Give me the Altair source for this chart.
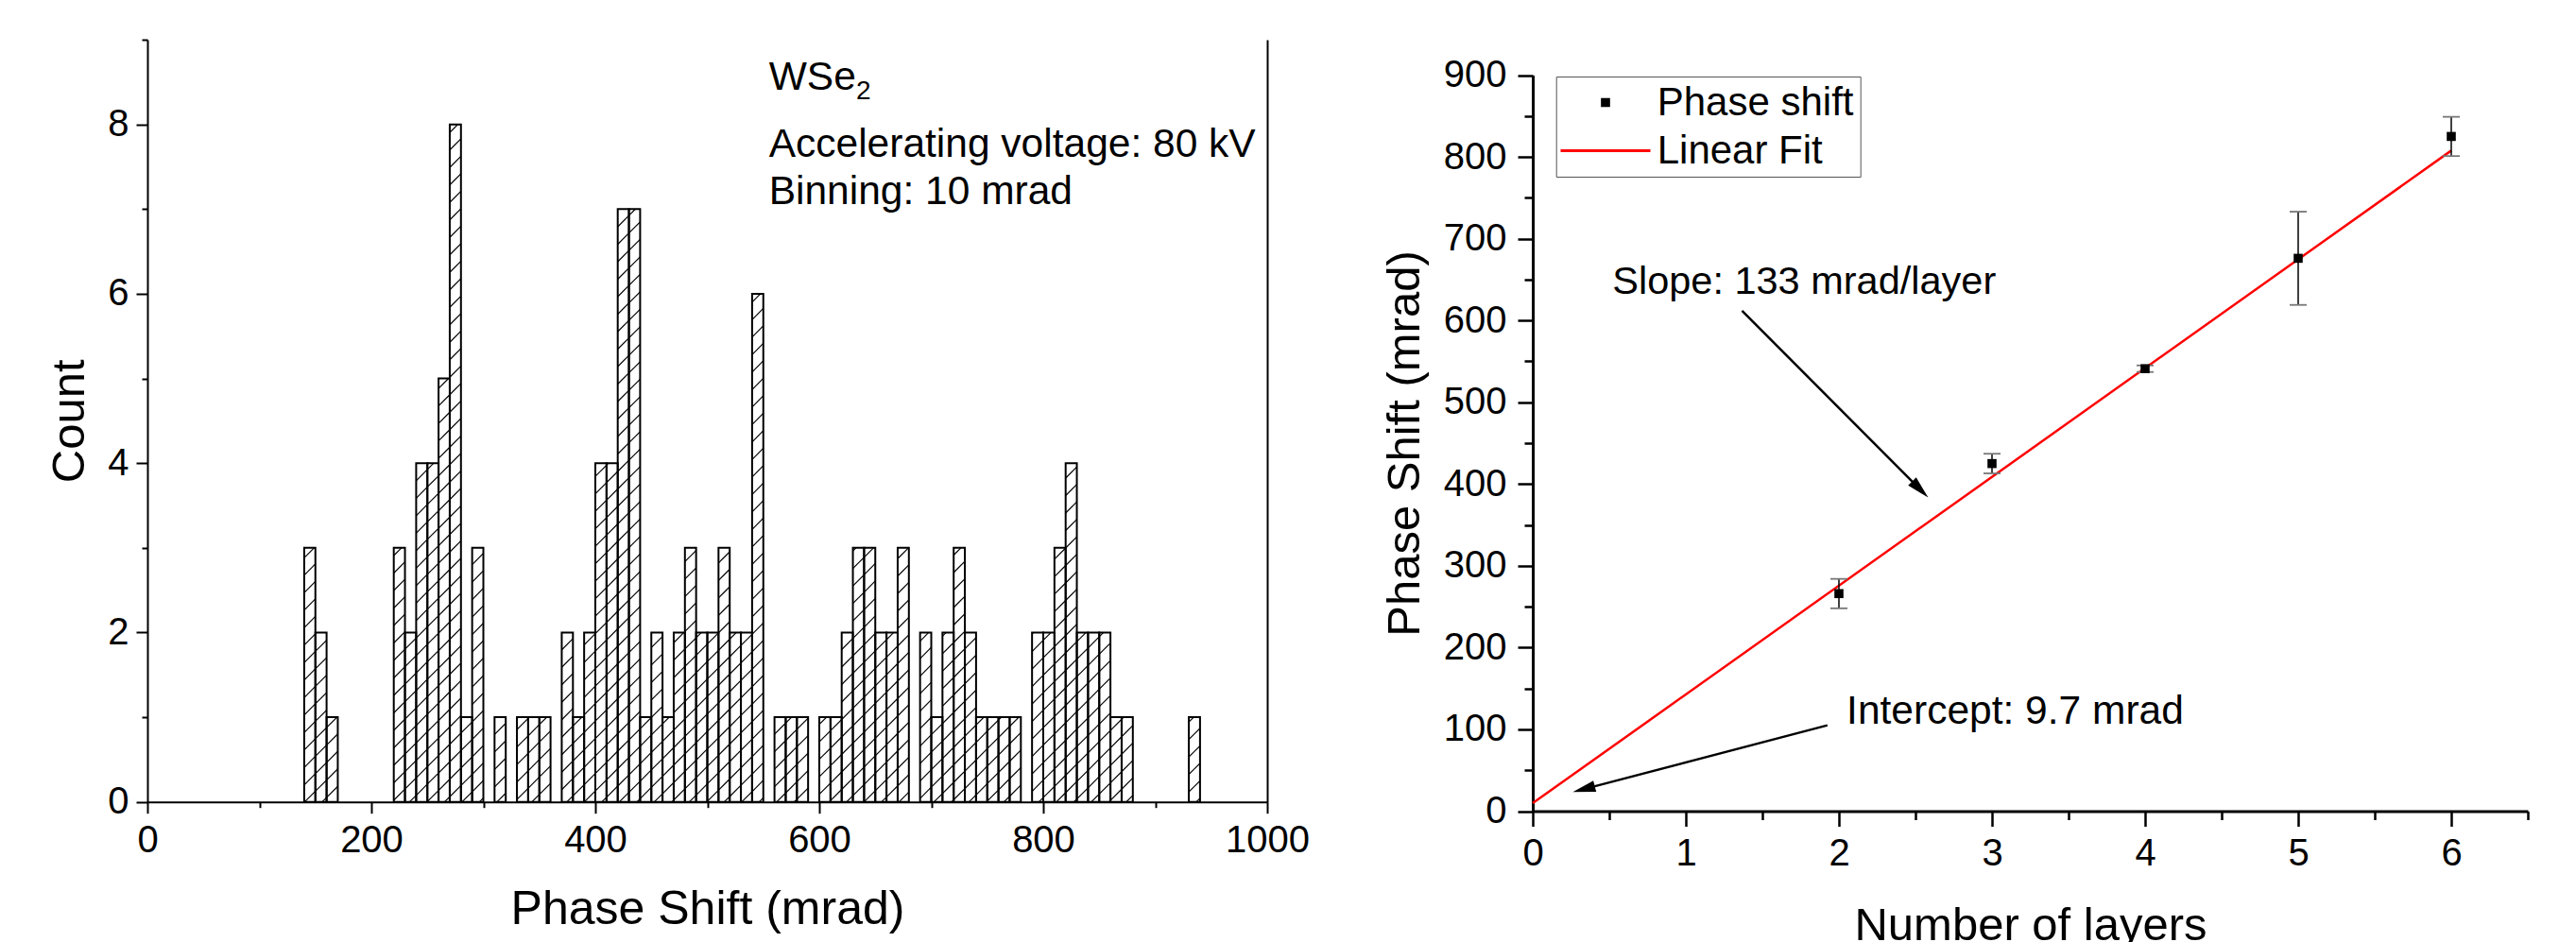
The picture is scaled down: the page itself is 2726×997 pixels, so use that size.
import math
import altair as alt
import numpy as np
import pandas as pd

FONT = "Liberation Sans"

# ---------------- histogram data (10 mrad bins) ----------------
bin_starts = [140, 150, 160,
              220, 230, 240, 250, 260, 270, 280, 290,
              310, 330, 340, 350,
              370, 380, 390, 400, 410, 420, 430, 440, 450, 460, 470, 480, 490, 500, 510, 520, 530, 540,
              560, 570, 580,
              600, 610, 620, 630, 640, 650, 660, 670,
              690, 700, 710, 720, 730, 740, 750, 760, 770,
              790, 800, 810, 820, 830, 840, 850, 860, 870,
              930]
bin_counts = [3, 2, 1,
              3, 2, 4, 4, 5, 8, 1, 3,
              1, 1, 1, 1,
              2, 1, 2, 4, 4, 7, 7, 1, 2, 1, 2, 3, 2, 2, 3, 2, 2, 6,
              1, 1, 1,
              1, 1, 2, 3, 3, 2, 2, 3,
              2, 1, 2, 3, 2, 1, 1, 1, 1,
              2, 2, 3, 4, 2, 2, 2, 1, 1,
              1]
BIN_WIDTH = 10

# ---------------- phase shift vs layers ----------------
n_layers = [2, 3, 4, 5, 6]
phase_shift = [266, 425, 541, 676, 825]
phase_err = [18, 12, 4, 57, 24]
fit_slope = 133
fit_intercept = 9.7
fit_x = [0, 6]
series_names = ["Phase shift", "Linear Fit"]

# ---------------- annotations ----------------
hist_note_text = ["WSe", "Accelerating voltage: 80 kV", "Binning: 10 mrad"]
hist_note_x = [555, 555, 555]
hist_note_y = [8.41, 7.62, 7.06]
hist_sub_text = ["2"]
hist_sub_x = [633]
hist_sub_y = [8.30]

slope_note_text = ["Slope: 133 mrad/layer"]
slope_note_x = [0.52]
slope_note_y = [632]
icpt_note_text = ["Intercept: 9.7 mrad"]
icpt_note_x = [2.05]
icpt_note_y = [107]
arrow_x0 = [1.367, 1.925]
arrow_y0 = [612, 105]
arrow_x1 = [2.583, 0.262]
arrow_y1 = [383.5, 23.4]

# ---------------- layout ----------------
W_L, H_L = 1185, 806.7
W_R, H_R = 1053, 816.5
R_TOP = 37.5
L_PX_X = W_L / 1000.0
L_PX_Y = H_L / 9.0
R_PX_X = W_R / 6.5
R_PX_Y = (H_R - R_TOP) / 900.0

# hatch segments (45 degree "/" lines, clipped to each bar)
rise = BIN_WIDTH * L_PX_X / L_PX_Y
gap = 18.5 / L_PX_Y
r = rise / BIN_WIDTH
segs = []
for b, c in zip(bin_starts, bin_counts):
    base = b * r
    k0 = int(np.ceil((-rise - base) / gap))
    k1 = int(np.floor((c - base) / gap))
    for k in range(k0, k1 + 1):
        yl = base + k * gap  # y of the hatch line at the bar's left edge
        xa, ya = b, yl
        xb, yb = b + BIN_WIDTH, yl + rise
        if ya < 0:
            xa = b + (-yl) / r
            ya = 0.0
        if yb > c:
            xb = b + (c - yl) / r
            yb = float(c)
        if xb - xa > 0.3:
            segs.append((xa, ya, xb, yb))
hatch_df = pd.DataFrame(segs, columns=["xa", "ya", "xb", "yb"])

hist_df = pd.DataFrame({"start": bin_starts, "count": bin_counts})
hist_df["end"] = hist_df["start"] + BIN_WIDTH
hist_df["zero"] = 0

xL = alt.Scale(domain=[0, 1000], nice=False, zero=False)
yL = alt.Scale(domain=[0, 9], nice=False, zero=False)

ax_Lx = alt.Axis(orient="bottom", values=list(range(0, 1001, 200)), format="d", tickSize=12, tickWidth=2,
                 domainWidth=2, labelPadding=9, labelFlush=False, labelOverlap=False, grid=False,
                 title="Phase Shift (mrad)", titlePadding=28, titleFontSize=50)
ax_Lx_minor = alt.Axis(orient="bottom", values=list(range(100, 1000, 200)), tickSize=6, tickWidth=2,
                       labels=False, domain=False, grid=False, title=None)
ax_Ly = alt.Axis(orient="left", values=[0, 2, 4, 6, 8], format="d", tickSize=12, tickWidth=2, domainWidth=2,
                 labelPadding=8, labelFlush=False, grid=False, title="Count", titlePadding=15)
ax_Ly_minor = alt.Axis(orient="left", values=[1, 3, 5, 7, 9], tickSize=6, tickWidth=2, labels=False,
                       domain=False, grid=False, title=None)
ax_Ly_right = alt.Axis(orient="right", ticks=False, labels=False, domainWidth=2, grid=False, title=None)

hatch = alt.Chart(hatch_df).mark_rule(color="black", strokeWidth=1.2).encode(
    x=alt.X("xa:Q", scale=xL, axis=None), y=alt.Y("ya:Q", scale=yL, axis=None),
    x2="xb:Q", y2="yb:Q")
bars = alt.Chart(hist_df).mark_rect(filled=False, color="black", strokeWidth=2).encode(
    x=alt.X("start:Q", scale=xL, axis=ax_Lx), x2="end:Q",
    y=alt.Y("zero:Q", scale=yL, axis=ax_Ly), y2="count:Q")
minor_L = alt.Chart(hist_df).mark_point(opacity=0).encode(
    x=alt.X("start:Q", scale=xL, axis=ax_Lx_minor), y=alt.Y("count:Q", scale=yL, axis=ax_Ly_minor))
frame_L = alt.Chart(hist_df).mark_point(opacity=0).encode(
    x=alt.X("start:Q", scale=xL, axis=None), y=alt.Y("count:Q", scale=yL, axis=ax_Ly_right))
notes_L = alt.Chart(pd.DataFrame({"x": hist_note_x, "y": hist_note_y, "t": hist_note_text})).mark_text(
    align="left", baseline="alphabetic", font=FONT, fontSize=42.5, color="black").encode(
    x=alt.X("x:Q", scale=xL, axis=None), y=alt.Y("y:Q", scale=yL, axis=None), text="t:N")
sub_L = alt.Chart(pd.DataFrame({"x": hist_sub_x, "y": hist_sub_y, "t": hist_sub_text})).mark_text(
    align="left", baseline="alphabetic", font=FONT, fontSize=28, color="black").encode(
    x=alt.X("x:Q", scale=xL, axis=None), y=alt.Y("y:Q", scale=yL, axis=None), text="t:N")

left = alt.layer(hatch, bars, minor_L, frame_L, notes_L, sub_L).resolve_axis(
    x="independent", y="independent").properties(width=W_L, height=H_L)

# ---------------- right chart ----------------
xR = alt.Scale(domain=[0, 6.5], nice=False, zero=False)
yR = alt.Scale(domain=[0, 900], nice=False, zero=False, range=[H_R, R_TOP])

ax_Rx = alt.Axis(orient="bottom", values=list(range(0, 7)), format="d", tickSize=16, tickWidth=2.5,
                 domainWidth=3, labelPadding=9, labelFlush=False, grid=False,
                 title="Number of layers", titlePadding=32)
ax_Rx_minor = alt.Axis(orient="bottom", values=[0.5, 1.5, 2.5, 3.5, 4.5, 5.5, 6.5], tickSize=9, tickWidth=2.5,
                       labels=False, domain=False, grid=False, title=None)
ax_Ry = alt.Axis(orient="left", values=list(range(0, 901, 100)), format="d", tickSize=16, tickWidth=2.5,
                 domainWidth=3, labelPadding=12, labelFlush=False, grid=False,
                 title="Phase Shift (mrad)", titlePadding=16)
ax_Ry_minor = alt.Axis(orient="left", values=list(range(50, 900, 100)), tickSize=9, tickWidth=2.5,
                       labels=False, domain=False, grid=False, title=None)

pts_df = pd.DataFrame({"n": n_layers, "ps": phase_shift, "err": phase_err})
pts_df["lo"] = pts_df["ps"] - pts_df["err"]
pts_df["hi"] = pts_df["ps"] + pts_df["err"]
pts_df["series"] = series_names[0]

fit_df = pd.DataFrame({"n": fit_x, "ps": [fit_intercept + fit_slope * v for v in fit_x]})

# legend symbols: small nominal size, paths drawn wider than the unit box
LEG_SIZE = 400
LEG_SQ = "M2.1475,-0.3325H2.8125V0.3325H2.1475Z"
LEG_LINE = "M-2.27,0H7.23"
CAP_PATH = "M-1,0H1"
HEAD_PATH = "M0,0L-2,-0.5L-2,0.5Z"

# legends of a concatenated chart are placed from the first view's origin
LEGEND_X = 1490.7
LEGEND_Y = 39

leg = alt.Legend(title=None, orient="none", legendX=LEGEND_X, legendY=LEGEND_Y, direction="vertical",
                 labelFont=FONT, labelFontSize=42, labelColor="black", labelOffset=58.5, labelLimit=0,
                 symbolSize=LEG_SIZE, symbolStrokeWidth=3, symbolOpacity=1, padding=6.5, rowPadding=9,
                 strokeColor="#555", fillColor="white")

fit = alt.Chart(fit_df).mark_line(color="red", strokeWidth=2.5).encode(
    x=alt.X("n:Q", scale=xR, axis=ax_Rx), y=alt.Y("ps:Q", scale=yR, axis=ax_Ry))
minor_R = alt.Chart(fit_df).mark_point(opacity=0).encode(
    x=alt.X("n:Q", scale=xR, axis=ax_Rx_minor), y=alt.Y("ps:Q", scale=yR, axis=ax_Ry_minor))
err_rule = alt.Chart(pts_df).mark_rule(color="black", strokeWidth=1.5).encode(
    x=alt.X("n:Q", scale=xR, axis=None), y=alt.Y("lo:Q", scale=yR, axis=None), y2="hi:Q")
cap_lo = alt.Chart(pts_df).mark_point(shape=CAP_PATH, size=324, filled=False, color="#777",
                                      strokeWidth=1.8, opacity=1).encode(
    x=alt.X("n:Q", scale=xR, axis=None), y=alt.Y("lo:Q", scale=yR, axis=None))
cap_hi = alt.Chart(pts_df).mark_point(shape=CAP_PATH, size=324, filled=False, color="#777",
                                      strokeWidth=1.8, opacity=1).encode(
    x=alt.X("n:Q", scale=xR, axis=None), y=alt.Y("hi:Q", scale=yR, axis=None))
points = alt.Chart(pts_df).mark_point(shape="square", filled=True, size=92, color="black",
                                      strokeWidth=0, opacity=1).encode(
    x=alt.X("n:Q", scale=xR, axis=None), y=alt.Y("ps:Q", scale=yR, axis=None))
color_scale = alt.Scale(domain=series_names, range=["black", "red"])
legend_layer = alt.Chart(pts_df).mark_point(filled=True, size=LEG_SIZE, strokeWidth=3, opacity=0).encode(
    x=alt.X("n:Q", scale=xR, axis=None), y=alt.Y("ps:Q", scale=yR, axis=None),
    fill=alt.Fill("series:N", scale=color_scale, legend=leg),
    stroke=alt.Stroke("series:N", scale=color_scale, legend=leg),
    shape=alt.Shape("series:N", scale=alt.Scale(domain=series_names, range=[LEG_SQ, LEG_LINE]), legend=leg))

# arrows
HEAD_LEN = 24
ax0, ay0, ax1, ay1, angs = [], [], [], [], []
for x0, y0, x1, y1 in zip(arrow_x0, arrow_y0, arrow_x1, arrow_y1):
    dxp = (x1 - x0) * R_PX_X
    dyp = (y1 - y0) * R_PX_Y
    L = math.hypot(dxp, dyp)
    ux, uy = dxp / L, dyp / L
    ax0.append(x0)
    ay0.append(y0)
    ax1.append(x1 - ux * (HEAD_LEN * 0.8) / R_PX_X)
    ay1.append(y1 - uy * (HEAD_LEN * 0.8) / R_PX_Y)
    angs.append(math.degrees(math.atan2(-dyp, dxp)) % 360)
arr_df = pd.DataFrame({"x0": ax0, "y0": ay0, "x1": ax1, "y1": ay1})
head_df = pd.DataFrame({"x": arrow_x1, "y": arrow_y1, "ang": angs})

arrows = alt.Chart(arr_df).mark_rule(color="black", strokeWidth=2.5).encode(
    x=alt.X("x0:Q", scale=xR, axis=None), y=alt.Y("y0:Q", scale=yR, axis=None), x2="x1:Q", y2="y1:Q")
heads = alt.Chart(head_df).mark_point(shape=HEAD_PATH, size=576, filled=True, color="black",
                                      strokeWidth=0, opacity=1).encode(
    x=alt.X("x:Q", scale=xR, axis=None), y=alt.Y("y:Q", scale=yR, axis=None),
    angle=alt.Angle("ang:Q", scale=None))
slope_note = alt.Chart(pd.DataFrame({"x": slope_note_x, "y": slope_note_y, "t": slope_note_text})).mark_text(
    align="left", baseline="alphabetic", font=FONT, fontSize=41.5, color="black").encode(
    x=alt.X("x:Q", scale=xR, axis=None), y=alt.Y("y:Q", scale=yR, axis=None), text="t:N")
icpt_note = alt.Chart(pd.DataFrame({"x": icpt_note_x, "y": icpt_note_y, "t": icpt_note_text})).mark_text(
    align="left", baseline="alphabetic", font=FONT, fontSize=42.5, color="black").encode(
    x=alt.X("x:Q", scale=xR, axis=None), y=alt.Y("y:Q", scale=yR, axis=None), text="t:N")

right = alt.layer(fit, minor_R, err_rule, cap_lo, cap_hi, points, legend_layer, arrows, heads,
                  slope_note, icpt_note).resolve_axis(
    x="independent", y="independent").properties(width=W_R, height=H_R)

chart = alt.hconcat(left, right, spacing=76).properties(
    padding={"left": 41, "top": 33, "right": 0, "bottom": 0}
).configure_view(stroke=None).configure_axis(
    labelFont=FONT, titleFont=FONT, labelFontSize=40, titleFontSize=49, titleFontWeight="normal",
    labelColor="black", titleColor="black", domainColor="black", tickColor="black"
)

chart.save("out.html", embed_options={"renderer": "svg", "actions": False})
